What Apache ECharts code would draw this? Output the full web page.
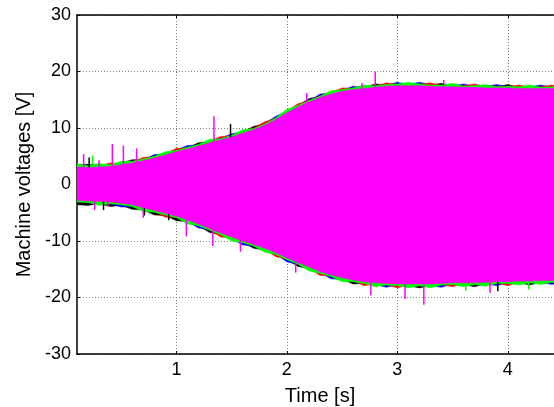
<!DOCTYPE html>
<html>
<head>
<meta charset="utf-8">
<script src="https://cdn.jsdelivr.net/npm/echarts@6/dist/echarts.min.js"></script>
<style>html,body{margin:0;padding:0;background:#fff}#c{width:554px;height:407px}</style>
</head>
<body>
<div id="c"></div>
<script>
// time samples [s]
var times = [0.1,0.2,0.3,0.4,0.5,0.6,0.7,0.8,0.9,1.0,1.1,1.2,1.3,1.4,1.5,1.6,1.7,1.8,1.9,2.0,2.1,2.2,2.3,2.4,2.5,2.6,2.7,2.8,2.9,3.0,3.1,3.2,3.3,3.4,3.5,3.6,3.7,3.8,3.9,4.0,4.1,4.2,4.3,4.4,4.5];

// upper envelopes [V]
var magentaHi = [3.1,3.0,3.1,3.2,3.5,3.8,4.2,4.7,5.2,5.8,6.3,6.8,7.4,7.9,8.4,9.1,9.7,10.5,11.5,12.7,13.7,14.6,15.4,16.0,16.5,16.8,17.0,17.2,17.4,17.5,17.5,17.5,17.4,17.3,17.3,17.2,17.2,17.1,17.1,17.1,17.0,17.0,17.0,17.0,17.0];
var greenHi   = [3.7,3.3,3.7,3.5,4.1,4.1,4.5,5.0,5.8,6.0,6.6,7.1,8.0,8.1,8.7,9.7,9.9,10.7,11.8,13.3,14.0,14.9,15.6,16.6,16.8,17.1,17.6,17.5,17.7,17.8,18.1,17.8,17.6,17.6,17.9,17.4,17.5,17.7,17.3,17.4,17.3,17.6,17.2,17.3,17.6];
var redHi     = [3.4,3.2,3.3,3.8,3.7,4.0,4.8,4.9,5.4,6.4,6.5,7.0,7.7,8.5,8.6,9.4,10.0,11.1,11.7,13.0,14.3,14.8,15.7,16.3,17.1,17.0,17.3,17.4,18.0,17.7,17.8,17.7,18.0,17.5,17.6,17.5,17.8,17.3,17.4,17.3,17.6,17.2,17.3,17.6,17.3];
var blueHi    = [3.3,3.2,3.3,3.4,3.7,4.0,4.4,5.3,5.4,6.1,6.9,7.0,7.6,8.2,9.0,9.3,9.9,10.8,12.1,12.9,13.9,14.8,16.0,16.2,16.7,17.4,17.2,17.4,17.6,18.1,17.7,18.1,17.7,17.5,17.5,17.8,17.4,17.4,17.7,17.3,17.2,17.3,17.6,17.2,17.2];
var blackHi   = [3.5,3.6,3.4,3.4,3.8,4.4,4.4,4.9,5.5,6.0,6.5,7.4,7.6,8.1,8.6,9.3,10.3,10.7,11.7,12.9,14.0,15.2,15.6,16.2,16.7,17.0,17.2,17.8,17.6,17.7,17.7,17.7,17.6,17.9,17.5,17.4,17.4,17.3,17.3,17.7,17.2,17.2,17.2,17.2,17.2];

// lower envelopes [V]
var magentaLo = [-2.8,-2.9,-3.0,-3.1,-3.3,-3.6,-4.1,-4.6,-5.1,-5.6,-6.3,-7.0,-7.8,-8.6,-9.3,-10.0,-10.6,-11.3,-12.1,-13.0,-13.8,-14.6,-15.4,-16.0,-16.5,-16.9,-17.2,-17.4,-17.5,-17.6,-17.6,-17.6,-17.6,-17.5,-17.4,-17.4,-17.4,-17.3,-17.2,-17.2,-17.1,-17.1,-17.0,-17.0,-17.0];
var greenLo   = [-3.1,-3.2,-3.7,-3.4,-3.6,-3.9,-4.8,-4.9,-5.4,-5.9,-7.0,-7.3,-8.1,-8.9,-10.0,-10.3,-10.9,-12.0,-12.4,-13.3,-14.1,-15.3,-15.7,-16.3,-17.2,-17.2,-17.5,-18.1,-17.8,-17.9,-18.3,-17.9,-18.3,-17.8,-17.7,-18.1,-17.7,-18.0,-17.5,-17.5,-17.8,-17.4,-17.7,-17.3,-17.7];
var redLo     = [-3.0,-3.1,-3.3,-3.3,-3.5,-3.8,-4.3,-4.8,-5.8,-5.8,-6.5,-7.2,-8.0,-9.3,-9.5,-10.2,-10.8,-11.5,-12.8,-13.2,-14.0,-14.8,-16.1,-16.2,-16.7,-17.1,-17.9,-17.6,-17.7,-18.3,-17.8,-17.8,-17.8,-17.7,-18.1,-17.6,-17.6,-17.5,-17.4,-17.9,-17.3,-17.3,-17.2,-17.2,-17.2];
var blueLo    = [-3.0,-3.2,-3.2,-3.4,-4.0,-3.9,-4.4,-4.9,-5.3,-5.9,-6.6,-7.7,-8.0,-8.8,-9.6,-10.7,-10.9,-11.6,-12.3,-13.7,-14.1,-14.9,-15.6,-16.7,-16.8,-17.2,-17.4,-17.7,-18.2,-17.8,-17.9,-17.9,-17.9,-18.2,-17.6,-17.7,-17.7,-17.6,-17.9,-17.4,-17.4,-17.4,-17.3,-17.7,-17.3];
var blackLo   = [-3.6,-3.7,-3.4,-3.9,-3.7,-4.4,-4.5,-5.4,-5.5,-6.4,-6.6,-7.3,-8.5,-8.9,-9.6,-10.3,-11.3,-11.6,-12.4,-13.3,-14.5,-14.9,-15.7,-16.3,-16.8,-17.6,-17.5,-17.7,-17.8,-17.9,-17.9,-18.3,-17.9,-17.8,-17.7,-17.7,-18.1,-17.6,-17.5,-17.5,-17.4,-17.8,-17.3,-17.3,-17.3];

// isolated spikes [time, value]
var magentaSpikes = [[0.16,5.4],[0.30,4.3],[0.42,7.2],[0.52,6.9],[0.64,6.4],[1.34,12.1],[2.18,16.2],[2.68,17.9],[2.80,20.0],[3.42,18.5],
                     [0.26,-4.5],[0.38,-3.9],[0.70,-5.9],[1.09,-9.2],[1.33,-10.9],[1.58,-11.9],[2.08,-15.6],[2.76,-19.6],[3.07,-20.3],[3.24,-21.3],[3.84,-19.2]];
var blackSpikes = [[0.21,4.8],[1.49,10.7],[0.34,-4.5],[0.71,-5.5],[0.93,-6.3],[3.91,-18.9]];
var greenSpikes = [[0.24,5.1],[3.62,-18.8],[4.19,-18.6]];

var xTicks = [1,2,3,4];
var yTicks = [-30,-20,-10,0,10,20,30];

var FONT = 'Liberation Sans';
var chart = echarts.init(document.getElementById('c'), null, {renderer:'canvas'});

// band between hi and lo envelope, drawn as one polygon through the axes' scales
function band(hi, lo, color, z) {
  var rows = times.map(function(t,i){ return [t, hi[i], lo[i]]; });
  return {
    type:'custom', data:rows, z:z, animation:false, silent:true, clip:true,
    encode:{x:0, y:[1,2]},
    renderItem:function(params, api){
      if (params.dataIndex !== 0) return null;
      var top = [], bot = [];
      for (var i = 0; i < rows.length; i++) {
        top.push(api.coord([rows[i][0], rows[i][1]]));
        bot.push(api.coord([rows[i][0], rows[i][2]]));
      }
      var pts = top.concat(bot.reverse());
      return {type:'polygon', shape:{points:pts}, style:{fill:color, stroke:color, lineWidth:0.5}};
    }
  };
}
function spikes(data, color, z) {
  return {
    type:'custom', data:data, z:z, animation:false, silent:true, clip:true,
    renderItem:function(params, api){
      var p0 = api.coord([api.value(0), 0]);
      var p1 = api.coord([api.value(0), api.value(1)]);
      return {type:'line', shape:{x1:p0[0], y1:p0[1], x2:p1[0], y2:p1[1]}, style:{stroke:color, lineWidth:1.5}};
    }
  };
}

var series = [
  band(blackHi, blackLo, '#000000', 2),
  band(blueHi, blueLo, '#0000ff', 3),
  band(redHi, redLo, '#ff0000', 4),
  band(greenHi, greenLo, '#00ff00', 5),
  spikes(blackSpikes, '#000000', 6),
  spikes(greenSpikes, '#00ff00', 6),
  band(magentaHi, magentaLo, '#ff00ff', 7),
  spikes(magentaSpikes, '#ff00ff', 8)
];

var gridLine = {show:true, lineStyle:{color:'#808080', type:[1,2], width:1}};
chart.setOption({
  animation:false,
  grid:{left:77, top:15, width:486, height:339, containLabel:false, outerBoundsMode:'none'},
  xAxis:[{
    type:'value', min:0.1, max:4.5, position:'bottom',
    axisLine:{show:true, onZero:false, lineStyle:{color:'#000', width:1.5}},
    axisTick:{show:true, inside:true, length:3, lineStyle:{color:'#000'}, customValues:xTicks},
    axisLabel:{show:true, margin:7, fontSize:18, fontFamily:FONT, color:'#000', customValues:xTicks},
    splitLine:gridLine,
    name:'Time [s]', nameLocation:'middle', nameGap:32,
    nameTextStyle:{fontSize:20, fontFamily:FONT, color:'#000'}
  },{
    type:'value', min:0.1, max:4.5, position:'top',
    axisLine:{show:true, onZero:false, lineStyle:{color:'#000', width:1.5}},
    axisTick:{show:true, inside:true, length:3, lineStyle:{color:'#000'}, customValues:xTicks},
    axisLabel:{show:false}, splitLine:{show:false}
  }],
  yAxis:[{
    type:'value', min:-30, max:30, interval:10,
    axisLine:{show:true, onZero:false, lineStyle:{color:'#000', width:1.5}},
    axisTick:{show:true, inside:true, length:3, lineStyle:{color:'#000'}},
    axisLabel:{show:true, margin:6, fontSize:18, fontFamily:FONT, color:'#000'},
    splitLine:gridLine,
    name:'Machine voltages [V]', nameLocation:'middle', nameGap:40,
    nameTextStyle:{fontSize:20, fontFamily:FONT, color:'#000'}
  }],
  series:series
});
</script>
</body>
</html>
